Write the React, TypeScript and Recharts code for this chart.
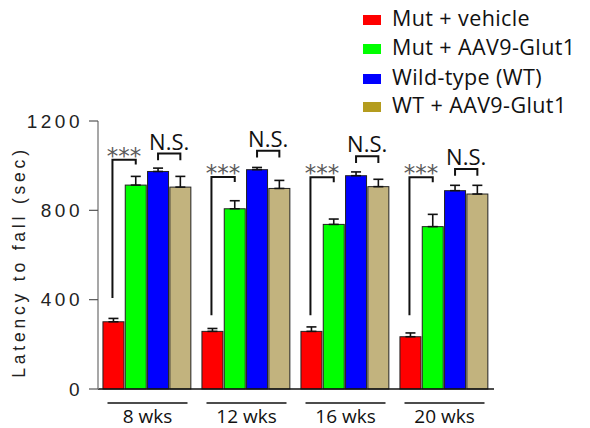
import { Bar, BarChart, ErrorBar, Label, XAxis, YAxis } from "recharts";

const WEEKS = ["8 wks", "12 wks", "16 wks", "20 wks"];

const MUT_VEHICLE = [301, 258, 258, 234];
const MUT_VEHICLE_SEM = [15, 13, 20, 17];
const MUT_AAV9 = [913, 807, 737, 727];
const MUT_AAV9_SEM = [39, 36, 24, 55];
const WILD_TYPE = [974, 982, 955, 888];
const WILD_TYPE_SEM = [15, 10, 17, 24];
const WT_AAV9 = [904, 898, 906, 873];
const WT_AAV9_SEM = [48, 36, 33, 39];

// *** bracket: from mut+vehicle up to the top, across to mut+AAV9
const STAR_BOTTOM = [408, 330, 330, 330];
const STAR_TOP = [1027, 949, 948, 948];
// N.S. bracket between wild-type and WT+AAV9
const NS_TOP = [1054, 1067, 1042, 985];

const Y_TICKS = [0, 400, 800, 1200];

const SERIES = [
  { key: "red", name: "Mut + vehicle", fill: "#FF0000", swatch: "#FF0000" },
  { key: "green", name: "Mut + AAV9-Glut1", fill: "#00FF00", swatch: "#00FF00" },
  { key: "blue", name: "Wild-type (WT)", fill: "#0000FF", swatch: "#0000FF" },
  { key: "tan", name: "WT + AAV9-Glut1", fill: "#C2B37E", swatch: "#B49C1E" },
];

const BAR_GAP = 1.3;

const data = WEEKS.map((week, i) => ({
  week,
  red: MUT_VEHICLE[i],
  green: MUT_AAV9[i],
  blue: WILD_TYPE[i],
  tan: WT_AAV9[i],
  redErr: [0, MUT_VEHICLE_SEM[i]],
  greenErr: [0, MUT_AAV9_SEM[i]],
  blueErr: [0, WILD_TYPE_SEM[i]],
  tanErr: [0, WT_AAV9_SEM[i]],
  starBottom: STAR_BOTTOM[i],
  starTop: STAR_TOP[i],
  nsTop: NS_TOP[i],
}));

const sansTicks = "'Liberation Sans', Arial, sans-serif";
const sansText = "'Open Sans', 'Noto Sans', sans-serif";

function PlainBar(props: any) {
  const { x, y, width, height, fill } = props;
  return (
    <rect
      x={x}
      y={y}
      width={width}
      height={height}
      fill={fill}
      stroke="#222"
      strokeWidth={1}
    />
  );
}

function VehicleBar(props: any) {
  const { x, y, width, height, payload } = props;
  const base = y + height;
  const k = height / payload.red;
  const yOf = (v: number) => base - v * k;
  const c1 = x + width / 2 - 1;
  const c2 = c1 + width + BAR_GAP + 1;
  const top = yOf(payload.starTop);
  return (
    <g>
      <PlainBar {...props} />
      <path
        d={`M${c1},${yOf(payload.starBottom)} V${top} H${c2} V${yOf(payload.starTop - 22)}`}
        fill="none"
        stroke="#111"
        strokeWidth={2}
      />
      <text
        x={(c1 + c2) / 2}
        y={top + 4}
        textAnchor="middle"
        fontFamily="'DejaVu Sans', sans-serif"
        fontSize={23}
        fill="#5a5a5a"
      >
        ***
      </text>
    </g>
  );
}

function WildTypeBar(props: any) {
  const { x, y, width, height, payload } = props;
  const base = y + height;
  const k = height / payload.blue;
  const yOf = (v: number) => base - v * k;
  const c1 = x + width / 2;
  const c2 = c1 + width + BAR_GAP;
  const top = yOf(payload.nsTop);
  return (
    <g>
      <PlainBar {...props} />
      <path
        d={`M${c1},${yOf(payload.nsTop - 30)} V${top} H${c2} V${yOf(payload.nsTop - 30)}`}
        fill="none"
        stroke="#111"
        strokeWidth={2}
      />
      <text
        x={(c1 + c2) / 2}
        y={top - 4}
        textAnchor="middle"
        fontFamily={sansText}
        fontSize={22}
        fill="#111"
      >
        N.S.
      </text>
    </g>
  );
}

function WeekTick(props: any) {
  const { x, y, payload } = props;
  return (
    <g>
      <line x1={x - 40} x2={x + 40} y1={y + 14} y2={y + 14} stroke="#111" strokeWidth={1.6} />
      <text x={x} y={y + 34} textAnchor="middle" fontFamily={sansText} fontSize={19} fill="#111">
        {payload.value}
      </text>
    </g>
  );
}

function YTitle(props: any) {
  const vb = props.viewBox || { x: 0, y: 121, width: 98, height: 268 };
  const cy = vb.y + vb.height / 2 + 7;
  return (
    <text
      x={25}
      y={cy}
      transform={`rotate(-90, 25, ${cy})`}
      textAnchor="middle"
      fontFamily={sansTicks}
      fontSize={17.5}
      letterSpacing={3.8}
      fill="#222"
    >
      Latency to fall (sec)
    </text>
  );
}

function ChartLegend() {
  const baselines = [26, 55, 85, 113];
  return (
    <svg
      width={230}
      height={125}
      style={{ position: "absolute", left: 360, top: 0 }}
    >
      {SERIES.map((s, i) => (
        <g key={s.key}>
          <rect x={3} y={baselines[i] - 11} width={18} height={10} fill={s.swatch} />
          <text
            x={32}
            y={baselines[i]}
            fontFamily={sansText}
            fontSize={21.5}
            letterSpacing={0.4}
            fill="#111"
          >
            {s.name}
          </text>
        </g>
      ))}
    </svg>
  );
}

export default function App() {
  return (
    <div
      style={{
        position: "fixed",
        left: 0,
        top: 0,
        width: 590,
        height: 428,
        background: "#fff",
      }}
    >
      <BarChart
        width={590}
        height={428}
        data={data}
        margin={{ top: 121, right: 96, bottom: 0, left: 0 }}
        barCategoryGap="5%"
        barGap={BAR_GAP}
      >
        <XAxis
          dataKey="week"
          height={39}
          axisLine={{ stroke: "#111", strokeWidth: 1.5 }}
          tickLine={false}
          tickSize={0}
          tickMargin={0}
          tick={<WeekTick />}
          interval={0}
        />
        <YAxis
          width={98}
          domain={[0, 1200]}
          ticks={Y_TICKS}
          interval={0}
          axisLine={{ stroke: "#8a8a8a", strokeWidth: 1.5 }}
          tickLine={{ stroke: "#555", strokeWidth: 1.2 }}
          tickSize={9}
          tickMargin={6}
          tick={{ fontFamily: sansTicks, fontSize: 19, letterSpacing: 3.5, fill: "#222" }}
        >
          <Label content={<YTitle />} />
        </YAxis>
        <Bar dataKey="red" name={SERIES[0].name} fill={SERIES[0].fill} shape={<VehicleBar />} isAnimationActive={false}>
          <ErrorBar dataKey="redErr" direction="y" width={5} stroke="#111" strokeWidth={1.6} />
        </Bar>
        <Bar dataKey="green" name={SERIES[1].name} fill={SERIES[1].fill} shape={<PlainBar />} isAnimationActive={false}>
          <ErrorBar dataKey="greenErr" direction="y" width={5} stroke="#111" strokeWidth={1.6} />
        </Bar>
        <Bar dataKey="blue" name={SERIES[2].name} fill={SERIES[2].fill} shape={<WildTypeBar />} isAnimationActive={false}>
          <ErrorBar dataKey="blueErr" direction="y" width={5} stroke="#111" strokeWidth={1.6} />
        </Bar>
        <Bar dataKey="tan" name={SERIES[3].name} fill={SERIES[3].fill} shape={<PlainBar />} isAnimationActive={false}>
          <ErrorBar dataKey="tanErr" direction="y" width={5} stroke="#111" strokeWidth={1.6} />
        </Bar>
      </BarChart>
      <ChartLegend />
    </div>
  );
}
